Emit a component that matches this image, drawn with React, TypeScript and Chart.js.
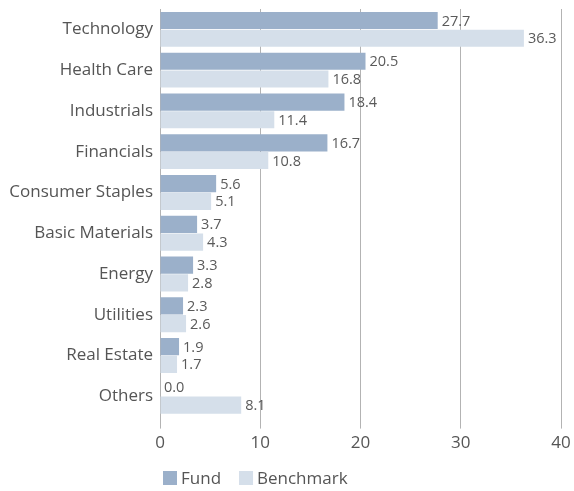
import React, { useEffect, useRef } from "react";
import { Chart, registerables } from "chart.js";

Chart.register(...registerables);

const categories = [
  "Technology",
  "Health Care",
  "Industrials",
  "Financials",
  "Consumer Staples",
  "Basic Materials",
  "Energy",
  "Utilities",
  "Real Estate",
  "Others",
];
const fundValues = [27.7, 20.5, 18.4, 16.7, 5.6, 3.7, 3.3, 2.3, 1.9, 0.0];
const benchmarkValues = [36.3, 16.8, 11.4, 10.8, 5.1, 4.3, 2.8, 2.6, 1.7, 8.1];
const xTicks = [0, 10, 20, 30, 40];

const FONT = "'Open Sans', sans-serif";
const TEXT = "#555555";

const valueLabels = {
  id: "valueLabels",
  afterDatasetsDraw(chart: any) {
    const ctx = chart.ctx;
    ctx.save();
    ctx.font = `14.5px ${FONT}`;
    ctx.fillStyle = "#5a5a5a";
    ctx.textAlign = "left";
    ctx.textBaseline = "middle";
    chart.data.datasets.forEach((ds: any, i: number) => {
      const meta = chart.getDatasetMeta(i);
      meta.data.forEach((bar: any, j: number) => {
        const v = ds.data[j] as number;
        ctx.fillText(v.toFixed(1), bar.x + 4, bar.y + 1);
      });
    });
    ctx.restore();
  },
};

// Legend drawn under the plot, starting at the chart area's left edge
const bottomLegend = {
  id: "bottomLegend",
  afterDraw(chart: any) {
    const ctx = chart.ctx;
    ctx.save();
    ctx.font = `17px ${FONT}`;
    ctx.textAlign = "left";
    ctx.textBaseline = "middle";
    const box = 14;
    const cy = chart.height - 13;
    let x = chart.chartArea.left + 3;
    chart.data.datasets.forEach((ds: any) => {
      ctx.fillStyle = ds.backgroundColor;
      ctx.fillRect(x, cy - box / 2, box, box);
      x += box + 4;
      ctx.fillStyle = TEXT;
      ctx.fillText(ds.label, x, cy + 1);
      x += ctx.measureText(ds.label).width + 18;
    });
    ctx.restore();
  },
};

export default function App() {
  const ref = useRef<HTMLCanvasElement | null>(null);
  useEffect(() => {
    document.body.style.margin = "0";
    const chart = new Chart(ref.current!, {
      type: "bar",
      data: {
        labels: categories,
        datasets: [
          {
            label: "Fund",
            data: fundValues,
            backgroundColor: "#9bb0ca",
            categoryPercentage: 0.87,
            barPercentage: 0.97,
          },
          {
            label: "Benchmark",
            data: benchmarkValues,
            backgroundColor: "#d5dfea",
            categoryPercentage: 0.87,
            barPercentage: 0.97,
          },
        ],
      },
      options: {
        indexAxis: "y",
        animation: false,
        responsive: false,
        layout: { padding: { top: 9, right: 0, left: 0, bottom: 34 } },
        scales: {
          x: {
            min: 0,
            max: 40,
            afterBuildTicks: (s: any) => {
              s.ticks = xTicks.map((v) => ({ value: v }));
            },
            afterFit: (s: any) => {
              s.paddingRight = 13;
              s.paddingLeft = 0;
            },
            grid: { color: "#b3b3b3", lineWidth: 1, tickLength: 12 },
            border: { display: false },
            ticks: { color: TEXT, font: { family: FONT, size: 17 }, padding: 4 },
          },
          y: {
            grid: { display: false, drawTicks: false },
            border: { display: false },
            afterFit: (s: any) => {
              s.width = 160;
              s.paddingTop = 0;
              s.paddingBottom = 0;
            },
            ticks: { color: TEXT, font: { family: FONT, size: 17 }, padding: 7 },
          },
        },
        plugins: {
          legend: { display: false },
          tooltip: { enabled: false },
        },
      },
      plugins: [valueLabels, bottomLegend],
    } as any);
    return () => chart.destroy();
  }, []);
  return (
    <div style={{ width: 574, height: 491 }}>
      <canvas ref={ref} width={574} height={491} />
    </div>
  );
}
